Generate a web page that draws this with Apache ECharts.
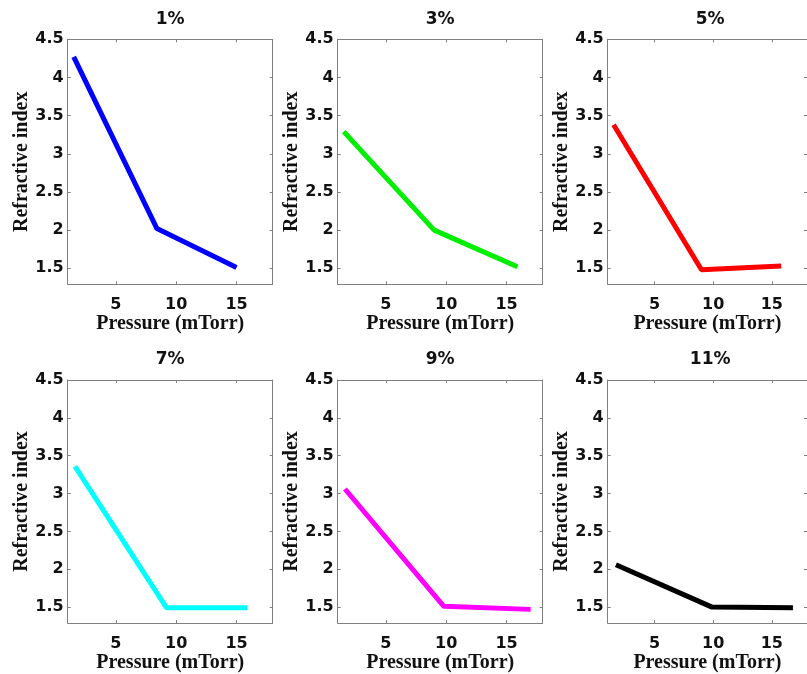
<!DOCTYPE html>
<html>
<head>
<meta charset="utf-8">
<script src="https://cdn.jsdelivr.net/npm/echarts@6/dist/echarts.min.js"></script>
<style>
html,body{margin:0;padding:0;background:#fff;}
#chart{width:807px;height:674px;}
</style>
</head>
<body>
<div id="chart"></div>
<script>
// ---- data ----
const titles = ['1%', '3%', '5%', '7%', '9%', '11%'];
const pressure1 = [1.5, 8.4, 15.0];
const index1 = [4.27, 2.02, 1.51];
const pressure3 = [1.5, 9.0, 15.9];
const index3 = [3.29, 2.00, 1.52];
const pressure5 = [1.5, 9.0, 15.8];
const index5 = [3.38, 1.48, 1.53];
const pressure7 = [1.6, 9.2, 15.9];
const index7 = [3.36, 1.49, 1.49];
const pressure9 = [1.6, 9.8, 17.0];
const index9 = [3.06, 1.51, 1.47];
const pressure11 = [1.7, 9.9, 16.8];
const index11 = [2.06, 1.50, 1.49];
const xTicks = [5, 10, 15];
const yTicks = [1.5, 2, 2.5, 3, 3.5, 4, 4.5];
const xLabel = 'Pressure (mTorr)';
const yLabel = 'Refractive index';

const pressures = [pressure1, pressure3, pressure5, pressure7, pressure9, pressure11];
const indices = [index1, index3, index5, index7, index9, index11];
const colors = ['#0000ff', '#00ee00', '#ff0000', '#00ffff', '#ff00ff', '#000000'];

// ---- layout ----
const lefts = [67.7, 337.7, 607.7];
const tops = [39.3, 380];
const W = 205, H = 245;
const frame = '#808080';
const tickFont = {fontFamily: 'DejaVu Sans', fontWeight: 'bold', fontSize: 16, color: '#111'};
const nameFont = {fontFamily: 'Liberation Serif', fontWeight: 'bold', fontSize: 20, color: '#111'};

const grid = [], xAxis = [], yAxis = [], series = [], graphic = [];
for (let i = 0; i < 6; i++) {
  const r = Math.floor(i / 3), c = i % 3;
  grid.push({left: lefts[c], top: tops[r], width: W, height: H, containLabel: false});
  const axLine = {show: true, onZero: false, lineStyle: {color: frame, width: 1}};
  const tick = {show: true, inside: true, length: 3, lineStyle: {color: frame}};
  xAxis.push({
    type: 'value', gridIndex: i, position: 'bottom', min: 1, max: 18,
    axisLine: axLine, splitLine: {show: false},
    axisTick: Object.assign({customValues: xTicks}, tick),
    axisLabel: Object.assign({customValues: xTicks, margin: 13}, tickFont),
    name: xLabel, nameLocation: 'middle', nameGap: 30, nameTextStyle: nameFont
  });
  xAxis.push({
    type: 'value', gridIndex: i, position: 'top', min: 1, max: 18,
    axisLine: axLine, splitLine: {show: false},
    axisTick: Object.assign({customValues: xTicks}, tick),
    axisLabel: {show: false}
  });
  yAxis.push({
    type: 'value', gridIndex: i, position: 'left', min: 1.29, max: 4.5,
    axisLine: axLine, splitLine: {show: false},
    axisTick: Object.assign({customValues: yTicks}, tick),
    axisLabel: Object.assign({customValues: yTicks, margin: 4}, tickFont),
    name: yLabel, nameLocation: 'middle', nameGap: 31, nameRotate: 90, nameTextStyle: nameFont
  });
  yAxis.push({
    type: 'value', gridIndex: i, position: 'right', min: 1.29, max: 4.5,
    axisLine: axLine, splitLine: {show: false},
    axisTick: Object.assign({customValues: yTicks}, tick),
    axisLabel: {show: false}
  });
  series.push({
    type: 'line', xAxisIndex: 2 * i, yAxisIndex: 2 * i,
    data: pressures[i].map((p, k) => [p, indices[i][k]]),
    symbol: 'none', lineStyle: {color: colors[i], width: 5}, itemStyle: {color: colors[i]}
  });
  graphic.push({
    type: 'text', x: lefts[c] + W / 2, y: tops[r] - 20,
    style: {text: titles[i], align: 'center', verticalAlign: 'middle',
      font: 'bold 17px "DejaVu Sans"', fill: '#111'}
  });
}

const chart = echarts.init(document.getElementById('chart'), null, {renderer: 'canvas'});
chart.setOption({animation: false, backgroundColor: '#fff', grid, xAxis, yAxis, series, graphic});
</script>
</body>
</html>
